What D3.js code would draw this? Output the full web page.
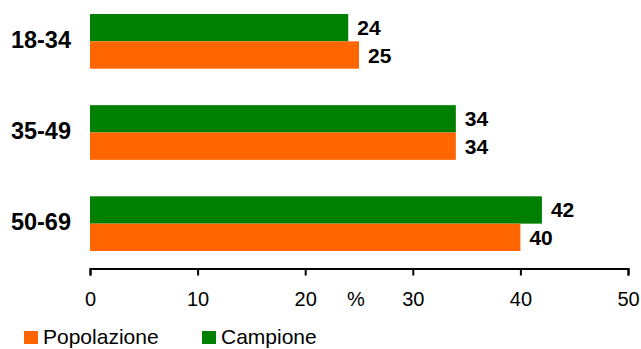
<!DOCTYPE html>
<html>
<head>
<meta charset="utf-8">
<script src="https://cdn.jsdelivr.net/npm/d3@7"></script>
<style>
  body { margin: 0; background: #fff; }
  svg text { font-family: Arial, "Liberation Sans", sans-serif; }
</style>
</head>
<body>
<div id="chart"></div>
<script>
// Age groups and the two series (percent)
var categories = ["18-34", "35-49", "50-69"];
var seriesNames = ["Campione", "Popolazione"];
var campione = [24, 34, 42];
var popolazione = [25, 34, 40];
var xTicks = [0, 10, 20, 30, 40, 50];
var legendNames = ["Popolazione", "Campione"];

var colors = { "Campione": "#008000", "Popolazione": "#FF6600" };

var svg = d3.select("#chart")
            .append("svg")
            .attr("width", 641)
            .attr("height", 349);

// Scales
var xScale = d3.scaleLinear()
               .domain([0, 50])
               .range([90, 628]);

var yScale = d3.scaleBand()
               .domain(categories)
               .range([14, 251])
               .paddingInner(0.4)
               .paddingOuter(0);

var ySub = d3.scaleBand()
             .domain(seriesNames)
             .range([0, yScale.bandwidth()]);

// Build rows from the arrays
var rows = [];
categories.forEach(function(c, i) {
    rows.push({ cat: c, series: "Campione", value: campione[i] });
    rows.push({ cat: c, series: "Popolazione", value: popolazione[i] });
});

// Bars
svg.selectAll("rect.bar")
   .data(rows)
   .enter()
   .append("rect")
   .attr("class", "bar")
   .attr("x", xScale(0))
   .attr("y", function(d) { return yScale(d.cat) + ySub(d.series); })
   .attr("width", function(d) { return xScale(d.value) - xScale(0); })
   .attr("height", ySub.bandwidth())
   .attr("fill", function(d) { return colors[d.series]; });

// Value labels
svg.selectAll("text.val")
   .data(rows)
   .enter()
   .append("text")
   .attr("class", "val")
   .attr("x", function(d) { return xScale(d.value) + 9; })
   .attr("y", function(d) { return yScale(d.cat) + ySub(d.series) + ySub.bandwidth() / 2 + 7.5; })
   .attr("font-size", "21px")
   .attr("font-weight", "bold")
   .attr("fill", "#000")
   .text(function(d) { return d.value; });

// Category labels
svg.selectAll("text.cat")
   .data(categories)
   .enter()
   .append("text")
   .attr("class", "cat")
   .attr("x", 71)
   .attr("y", function(d) { return yScale(d) + yScale.bandwidth() / 2 + 6.5; })
   .attr("text-anchor", "end")
   .attr("font-size", "23.5px")
   .attr("font-weight", "bold")
   .attr("fill", "#000")
   .text(function(d) { return d; });

// x axis
var axis = svg.append("g")
   .attr("class", "axis")
   .attr("transform", "translate(0, 268.5)")
   .call(d3.axisBottom(xScale)
           .tickValues(xTicks)
           .tickSizeInner(7)
           .tickSizeOuter(7)
           .tickPadding(16)
           .tickFormat(d3.format("d")));

axis.select(".domain").attr("stroke", "#000").attr("stroke-width", 2);
axis.selectAll(".tick line").attr("stroke", "#000").attr("stroke-width", 2);
axis.selectAll(".tick text")
    .attr("font-size", "20px")
    .attr("font-family", "Arial, 'Liberation Sans', sans-serif")
    .attr("fill", "#000");

// Unit label
svg.append("text")
   .attr("x", 356)
   .attr("y", 306)
   .attr("text-anchor", "middle")
   .attr("font-size", "20px")
   .attr("fill", "#000")
   .text("%");

// Legend
var legendX = [24, 202];
var legend = svg.selectAll("g.legend")
   .data(legendNames)
   .enter()
   .append("g")
   .attr("class", "legend")
   .attr("transform", function(d, i) { return "translate(" + legendX[i] + ", 0)"; });

legend.append("rect")
   .attr("x", 0)
   .attr("y", 331)
   .attr("width", 14)
   .attr("height", 13)
   .attr("fill", function(d) { return colors[d]; });

legend.append("text")
   .attr("x", 19)
   .attr("y", 344)
   .attr("font-size", "21px")
   .attr("fill", "#000")
   .text(function(d) { return d; });
</script>
</body>
</html>
